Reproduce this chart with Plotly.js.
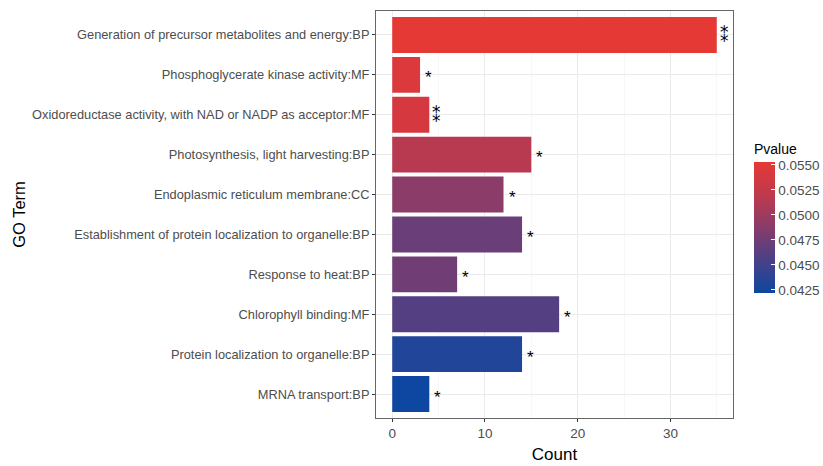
<!DOCTYPE html>
<html>
<head>
<meta charset="utf-8">
<script src="https://cdn.plot.ly/plotly-3.0.1.min.js"></script>
<style>html,body{margin:0;padding:0;background:#fff;}#chart{width:823px;height:466px;}</style>
</head>
<body>
<div id="chart"></div>
<script>
const terms = [
  "Generation of precursor metabolites and energy:BP",
  "Phosphoglycerate kinase activity:MF",
  "Oxidoreductase activity, with NAD or NADP as acceptor:MF",
  "Photosynthesis, light harvesting:BP",
  "Endoplasmic reticulum membrane:CC",
  "Establishment of protein localization to organelle:BP",
  "Response to heat:BP",
  "Chlorophyll binding:MF",
  "Protein localization to organelle:BP",
  "MRNA transport:BP"
];
const counts = [35, 3, 4, 15, 12, 14, 7, 18, 14, 4];
const pvalues = [0.0553, 0.0545, 0.0540, 0.0515, 0.0490, 0.0472, 0.0475, 0.0460, 0.0432, 0.0422];
const stars = ["**", "*", "**", "*", "*", "*", "*", "*", "*", "*"];
const pTicks = [0.0425, 0.0450, 0.0475, 0.0500, 0.0525, 0.0550];
const xTicks = [0, 10, 20, 30];

const FAM = "Liberation Sans, Arial, sans-serif";

const trace = {
  type: "bar",
  orientation: "h",
  x: counts,
  y: terms,
  width: 0.9,
  marker: {
    color: pvalues,
    colorscale: [[0, "#0D47A1"], [0.3, "#563F82"], [0.5, "#883C6A"], [0.72, "#B93A50"], [1, "#E53935"]],
    line: {width: 0},
    colorbar: {
      title: {text: "Pvalue", side: "top", font: {family: FAM, size: 14, color: "#000"}},
      x: 1.0588, xanchor: "left", xpad: 0,
      y: 0.494, yanchor: "middle", ypad: 0,
      thickness: 21,
      lenmode: "pixels", len: 152,
      outlinewidth: 0,
      tickvals: pTicks,
      ticktext: pTicks.map(v => v.toFixed(4)),
      ticks: "inside", ticklen: 4, tickcolor: "#fff", tickwidth: 1,
      tickfont: {family: FAM, size: 13.5, color: "#4D4D4D"}
    }
  },
  hoverinfo: "x+y"
};

const annotations = terms.map((t, i) => ({
  x: counts[i], y: t, xref: "x", yref: "y",
  text: stars[i].length > 1 ? "\u2051" : "*",
  showarrow: false,
  xanchor: "left", yanchor: "middle",
  xshift: stars[i].length > 1 ? 1 : 3,
  yshift: stars[i].length > 1 ? -1 : -3,
  font: {family: stars[i].length > 1 ? "DejaVu Sans, sans-serif" : FAM, size: 17, color: "#000"}
}));

const layout = {
  width: 823, height: 466,
  margin: {l: 376, r: 90, t: 11, b: 48, pad: 0, autoexpand: false},
  paper_bgcolor: "#fff", plot_bgcolor: "#fff",
  showlegend: false,
  xaxis: {
    range: [-1.75, 36.75],
    tickvals: xTicks,
    ticks: "outside", ticklen: 3, tickcolor: "#333", tickwidth: 1,
    tickfont: {family: FAM, size: 13.5, color: "#4D4D4D"},
    showgrid: true, gridcolor: "#EBEBEB", gridwidth: 1,
    minor: {dtick: 5, tick0: 0, showgrid: true, gridcolor: "#F4F4F4", gridwidth: 0.6},
    zeroline: false,
    showline: true, mirror: true, linecolor: "#666", linewidth: 1,
    title: {text: "Count", font: {family: FAM, size: 17, color: "#000"}, standoff: 7},
    automargin: false, fixedrange: true
  },
  yaxis: {
    type: "category",
    categoryorder: "array", categoryarray: terms,
    range: [9.6, -0.6],
    ticks: "outside", ticklen: 3, tickcolor: "#333", tickwidth: 1,
    tickfont: {family: FAM, size: 12.8, color: "#4D4D4D"},
    showgrid: true, gridcolor: "#EBEBEB", gridwidth: 1,
    zeroline: false,
    showline: true, mirror: true, linecolor: "#666", linewidth: 1,
    title: {text: "GO Term", font: {family: FAM, size: 16.5, color: "#000"}, standoff: 2},
    automargin: false, fixedrange: true
  },
  annotations: annotations
};

Plotly.newPlot("chart", [trace], layout, {displayModeBar: false, staticPlot: true});
</script>
</body>
</html>
